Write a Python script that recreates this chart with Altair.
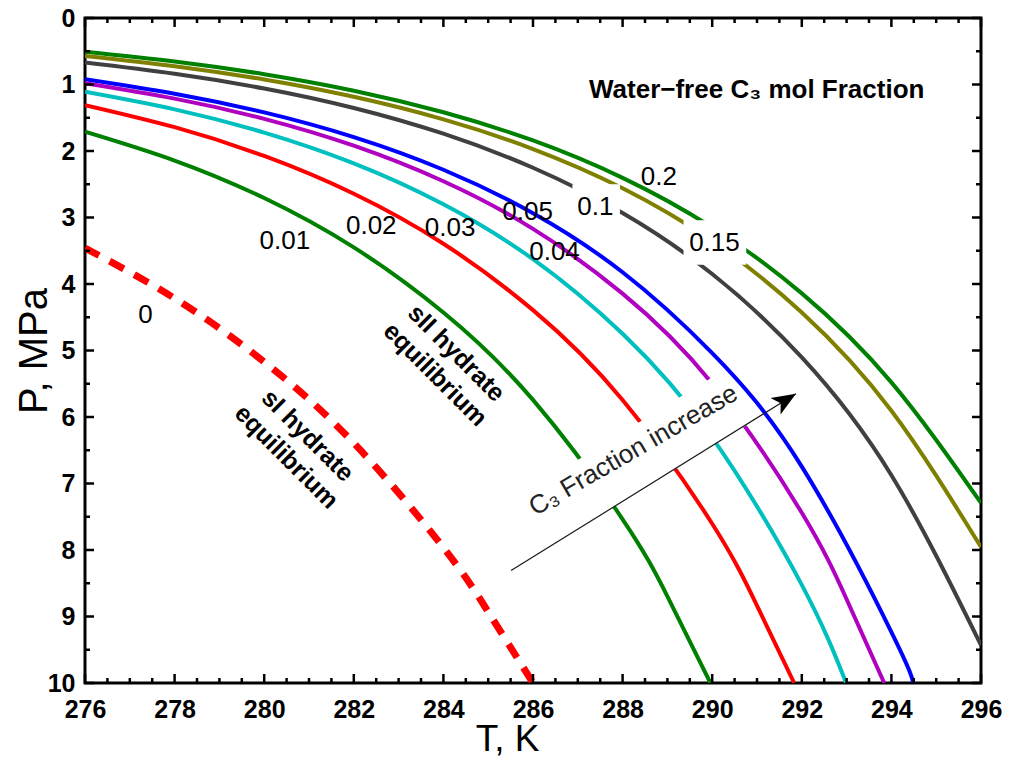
import altair as alt
import pandas as pd

FONT = "Liberation Sans, Arial, Helvetica, sans-serif"

# ---- curve data: T (K), P (MPa) ----
T_020 = [276, 278, 280, 282, 284, 286, 288, 290, 292, 294, 296]
P_020 = [0.507, 0.654, 0.845, 1.093, 1.418, 1.842, 2.404, 3.149, 4.141, 5.479, 7.293]
T_015 = [276, 278, 280, 282, 284, 286, 288, 290, 292, 294, 296]
P_015 = [0.570, 0.725, 0.925, 1.185, 1.525, 1.970, 2.560, 3.353, 4.428, 5.906, 7.956]
T_010 = [276, 278, 280, 282, 284, 286, 288, 290, 292, 294, 296]
P_010 = [0.670, 0.839, 1.060, 1.353, 1.740, 2.252, 2.933, 3.850, 5.104, 6.876, 9.431]
T_005 = [276, 278, 280, 282, 284, 286, 288, 290, 292, 294, 294.49]
P_005 = [0.920, 1.138, 1.420, 1.791, 2.282, 2.936, 3.823, 5.038, 6.746, 9.235, 10.0]
T_004 = [276, 278, 280, 282, 284, 286, 288, 290, 292, 293, 293.84]
P_004 = [0.980, 1.212, 1.516, 1.920, 2.455, 3.171, 4.145, 5.496, 7.441, 8.741, 10.0]
T_003 = [276, 278, 280, 282, 284, 286, 288, 290, 292, 292.99]
P_003 = [1.110, 1.374, 1.723, 2.186, 2.801, 3.626, 4.749, 6.309, 8.525, 10.0]
T_002 = [276, 278, 280, 282, 284, 286, 288, 290, 291, 291.83]
P_002 = [1.310, 1.642, 2.075, 2.643, 3.394, 4.393, 5.743, 7.606, 8.837, 10.0]
T_001 = [276, 278, 280, 282, 284, 286, 288, 289, 289.96]
P_001 = [1.709, 2.143, 2.707, 3.449, 4.428, 5.743, 7.538, 8.696, 10.0]
T_000 = [276, 278, 280, 282, 284, 285, 286]
P_000 = [3.459, 4.216, 5.171, 6.392, 7.964, 8.93, 10.0]

CURVE_NAMES = ["0.2", "0.15", "0.1", "0.05", "0.04", "0.03", "0.02", "0.01"]
CURVE_COLORS = ["#008000", "#808000", "#404040", "#0000ff", "#b000c0",
                "#00bfbf", "#ff0000", "#008000"]
CURVE_T = [T_020, T_015, T_010, T_005, T_004, T_003, T_002, T_001]
CURVE_P = [P_020, P_015, P_010, P_005, P_004, P_003, P_002, P_001]

# ---- annotations ----
LABEL_TEXT = ["0.2", "0.15", "0.1", "0.05", "0.04", "0.03", "0.02", "0.01", "0"]
LABEL_T = [288.81, 290.05, 287.39, 285.88, 286.48, 284.15, 282.39, 280.46, 277.35]
LABEL_P = [2.39, 3.38, 2.84, 2.92, 3.52, 3.16, 3.13, 3.35, 4.47]

# white boxes behind the "0.1" and "0.15" labels
MASK_T0 = [286.88, 289.36]
MASK_T1 = [287.94, 290.76]
MASK_P0 = [2.50, 3.04]
MASK_P1 = [3.20, 3.71]

TITLE_TEXT = ["Water\u2212free C\u2083 mol Fraction"]
TITLE_T = [287.25]
TITLE_P = [1.207]

EQ_TEXT = ["sII hydrate\nequilibrium", "sI hydrate\nequilibrium"]
EQ_T = [284.29, 280.97]
EQ_P = [5.04, 6.28]

ARROW_T = [285.51]
ARROW_P = [8.31]
ARROW_T2 = [291.87]
ARROW_P2 = [5.65]
ARROW_TEXT = ["C\u2083 Fraction increase"]
ARROW_TEXT_T = [288.24]
ARROW_TEXT_P = [6.50]
ARROW_MASK_T = [288.18]
ARROW_MASK_P = [6.675]

X_MAJOR = [276, 278, 280, 282, 284, 286, 288, 290, 292, 294, 296]
X_MINOR = [276 + 0.5 * k for k in range(41) if k % 4 != 0]
Y_MAJOR = [0, 1, 2, 3, 4, 5, 6, 7, 8, 9, 10]
Y_MINOR = [0.5 + k for k in range(10)]

W, H = 896, 665

rows = []
for name, ts, ps in zip(CURVE_NAMES, CURVE_T, CURVE_P):
    for i, (t, p) in enumerate(zip(ts, ps)):
        rows.append({"curve": name, "T": t, "P": p, "i": i})
df_lines = pd.DataFrame(rows)
df_zero = pd.DataFrame({"T": T_000, "P": P_000, "i": list(range(len(T_000)))})

xs = alt.Scale(domain=[276, 296], nice=False, zero=False)
ys = alt.Scale(domain=[0, 10], nice=False, zero=False, reverse=True)

x_axis = alt.Axis(
    title="T, K", values=X_MAJOR, format="d", ticks=False, domain=False, grid=False,
    labelFont=FONT, labelFontSize=25, labelFontWeight="bold", labelColor="black",
    labelPadding=14, labelFlush=False, labelOverlap=False,
    titleFont=FONT, titleFontSize=37, titleFontWeight="normal", titleColor="black",
    titleX=422, titleY=67, titleBaseline="alphabetic", titleAlign="center",
)
y_axis = alt.Axis(
    title="P, MPa", values=Y_MAJOR, format="d", ticks=False, domain=False, grid=False,
    labelFont=FONT, labelFontSize=25, labelFontWeight="bold", labelColor="black",
    labelPadding=10, labelFlush=False, labelOverlap=False,
    titleFont=FONT, titleFontSize=40, titleFontWeight="normal", titleColor="black",
    titleAngle=270, titleX=-39, titleY=H / 2, titleBaseline="alphabetic",
    titleAlign="center",
)


def X(f):
    return alt.X(f, type="quantitative", scale=xs, axis=x_axis)


def Y(f):
    return alt.Y(f, type="quantitative", scale=ys, axis=y_axis)


solid = alt.Chart(df_lines).mark_line(
    strokeWidth=4, interpolate="natural", clip=True
).encode(
    x=X("T"), y=Y("P"),
    color=alt.Color("curve:N", scale=alt.Scale(domain=CURVE_NAMES, range=CURVE_COLORS),
                    legend=None),
    detail="curve:N",
    order="i:Q",
)

dashed = alt.Chart(df_zero).mark_line(
    strokeWidth=7, strokeDash=[16, 12], color="#ff0000", interpolate="natural", clip=True
).encode(x=X("T"), y=Y("P"), order="i:Q")

mask_rect = alt.Chart(pd.DataFrame({
    "T0": MASK_T0, "T1": MASK_T1, "P0": MASK_P0, "P1": MASK_P1
})).mark_rect(color="white").encode(
    x=X("T0"), x2=alt.X2("T1"), y=Y("P0"), y2=alt.Y2("P1")
)

RECT_PATH = "M-1,-0.237L1,-0.237L1,0.237L-1,0.237Z"
mask_band = alt.Chart(pd.DataFrame({"T": ARROW_MASK_T, "P": ARROW_MASK_P})).mark_point(
    shape=RECT_PATH, size=61500, angle=328.4, filled=True, color="white",
    opacity=1, strokeWidth=0
).encode(x=X("T"), y=Y("P"))


def ticks_x(vals, length, top):
    y0 = 0 if top else H
    y1 = length if top else H - length
    return alt.Chart(pd.DataFrame({"T": vals})).mark_rule(
        color="black", strokeWidth=2.5
    ).encode(x=X("T"), y=alt.value(y0), y2=alt.value(y1))


def ticks_y(vals, length, right):
    x0 = W if right else 0
    x1 = W - length if right else length
    return alt.Chart(pd.DataFrame({"P": vals})).mark_rule(
        color="black", strokeWidth=2.5
    ).encode(y=Y("P"), x=alt.value(x0), x2=alt.value(x1))


tick_layers = [
    ticks_x(X_MAJOR, 9, False), ticks_x(X_MINOR, 5, False),
    ticks_x(X_MAJOR, 9, True), ticks_x(X_MINOR, 5, True),
    ticks_y(Y_MAJOR, 9, False), ticks_y(Y_MINOR, 5, False),
    ticks_y(Y_MAJOR, 9, True), ticks_y(Y_MINOR, 5, True),
]

labels = alt.Chart(pd.DataFrame({"T": LABEL_T, "P": LABEL_P, "txt": LABEL_TEXT})).mark_text(
    font=FONT, fontSize=26, color="black", align="center", baseline="middle"
).encode(x=X("T"), y=Y("P"), text="txt:N")

title = alt.Chart(pd.DataFrame({"T": TITLE_T, "P": TITLE_P, "txt": TITLE_TEXT})).mark_text(
    font=FONT, fontSize=26, fontWeight="bold", color="black", align="left",
    baseline="alphabetic"
).encode(x=X("T"), y=Y("P"), text="txt:N")

eq = alt.Chart(pd.DataFrame({"T": EQ_T, "P": EQ_P, "txt": EQ_TEXT})).mark_text(
    font=FONT, fontSize=25, fontWeight="bold", color="black", align="center",
    baseline="middle", angle=45, lineBreak="\n", lineHeight=30
).encode(x=X("T"), y=Y("P"), text="txt:N")

arrow_line = alt.Chart(pd.DataFrame({
    "T": ARROW_T, "P": ARROW_P, "T2": ARROW_T2, "P2": ARROW_P2
})).mark_rule(color="#1a1a1a", strokeWidth=1.2).encode(
    x=X("T"), y=Y("P"), x2=alt.X2("T2"), y2=alt.Y2("P2")
)

ARROW_PATH = "M0,0L0.8,2L0,1.5L-0.8,2Z"
arrow_head = alt.Chart(pd.DataFrame({"T": ARROW_T2, "P": ARROW_P2})).mark_point(
    shape=ARROW_PATH, size=576, angle=58.4, filled=True, color="black",
    opacity=1, strokeWidth=0
).encode(x=X("T"), y=Y("P"))

arrow_text = alt.Chart(pd.DataFrame({
    "T": ARROW_TEXT_T, "P": ARROW_TEXT_P, "txt": ARROW_TEXT
})).mark_text(
    font=FONT, fontSize=26, color="#222222", align="center", baseline="middle", angle=330
).encode(x=X("T"), y=Y("P"), text="txt:N")

chart = alt.layer(
    solid, dashed, mask_rect, mask_band, *tick_layers,
    labels, title, eq, arrow_line, arrow_head, arrow_text
).properties(
    width=W, height=H,
    autosize=alt.AutoSizeParams(type="none"),
    padding={"left": 77, "top": 10, "right": 21, "bottom": 73},
    background="white",
).configure_view(stroke="black", strokeWidth=3)

chart.save("out.html", embed_options={"renderer": "svg", "actions": False})
